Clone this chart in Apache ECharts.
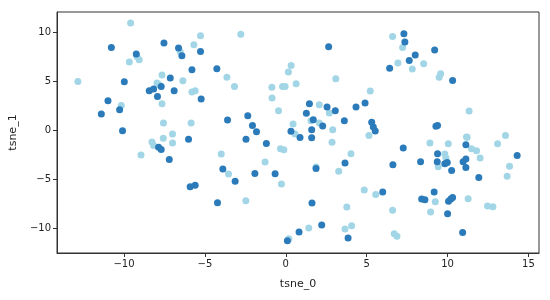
<!DOCTYPE html>
<html>
<head>
<meta charset="utf-8">
<script src="https://cdn.jsdelivr.net/npm/echarts@6/dist/echarts.min.js"></script>
<style>
  html, body { margin: 0; padding: 0; background: #fff; }
  #chart { width: 550px; height: 300px; }
</style>
</head>
<body>
<div id="chart"></div>
<script>
// tsne scatter — two groups
const xTicks = [-10, -5, 0, 5, 10, 15];
const yTicks = [-10, -5, 0, 5, 10];

const lightPoints = [
  [-9.59, 10.97], [-12.85, 5.0], [-5.27, 9.67], [-5.68, 8.76], [-6.53, 8.07], [-9.2, 7.56],
  [-9.06, 7.22], [-9.67, 6.99], [-7.65, 5.66], [-6.36, 5.08], [-7.96, 4.85], [-7.82, 4.67],
  [-5.8, 3.93], [-5.6, 4.06], [-7.65, 2.73], [-10.17, 2.56], [-7.56, 0.77], [-5.85, 0.77],
  [-7.57, -0.8], [-7.0, -0.36], [-7.0, -1.28], [-8.27, -1.17], [-8.17, -1.52], [-8.95, -2.5],
  [-3.99, -2.4], [-3.64, 5.42], [-3.17, 4.5],
  [-2.78, 9.81], [0.33, 6.64], [0.16, 5.97], [-0.86, 4.4], [-0.04, 4.5], [-0.2, 4.5],
  [0.64, 4.78], [3.09, 5.29], [-0.85, 3.31], [-0.45, 2.02], [5.22, 4.03], [2.07, 2.63],
  [2.69, 1.79], [1.56, 1.0], [2.07, 0.77], [0.45, 0.66], [2.9, 0.08], [5.14, -0.5],
  [0.57, -0.36], [2.86, -1.21], [-0.33, -1.86], [-0.12, -1.96], [-3.54, -4.44], [-1.28, -3.21],
  [-0.27, -5.46], [1.87, -3.72], [3.27, -4.17], [4.03, -2.37], [4.85, -6.07], [5.56, -6.52],
  [-2.47, -7.16], [3.77, -7.8], [1.42, -9.95], [0.19, -11.04], [3.66, -10.05], [4.07, -9.71],
  [6.6, 9.6], [7.22, 8.48], [6.93, 6.89], [7.82, 6.28], [8.52, 6.82], [9.57, 5.8],
  [9.48, 5.42], [11.33, 1.99], [11.17, -0.66], [13.58, -0.5], [8.91, -1.28], [10.04, -1.35],
  [11.21, -0.7], [11.48, -1.86], [11.79, -2.06], [13.09, -1.35], [9.83, -2.4], [9.9, -2.81],
  [9.42, -3.69], [12.01, -2.81], [13.83, -3.66], [13.68, -4.68], [9.24, -7.27], [11.27, -6.96],
  [12.47, -7.7], [12.8, -7.78], [6.6, -8.15], [8.95, -8.32], [6.7, -10.53], [6.87, -10.8]
];

const darkPoints = [
  [-10.78, 8.48], [-7.53, 8.93], [-6.63, 8.42], [-6.42, 7.63], [-5.27, 8.07], [-9.24, 7.8],
  [-5.8, 6.2], [-4.26, 6.3], [-9.98, 4.98], [-7.14, 5.36], [-7.7, 4.5], [-8.17, 4.23],
  [-8.44, 4.06], [-6.9, 4.06], [-7.93, 3.48], [-5.23, 3.21], [-10.99, 3.04], [-10.27, 2.12],
  [-11.4, 1.68], [-10.09, -0.02], [-6.01, -0.9], [-3.6, 1.07], [-7.86, -1.72], [-7.7, -1.93],
  [-7.2, -2.95], [-3.89, -3.93], [-5.91, -5.73], [-5.6, -5.6], [-4.22, -7.37],
  [2.65, 8.55], [-2.35, 1.51], [-2.06, 0.5], [-1.81, -0.12], [1.46, 2.73], [2.55, 2.4],
  [3.06, 2.02], [1.27, 1.75], [1.7, 1.1], [2.28, 0.46], [3.62, 1.0], [4.34, 2.4],
  [4.9, 2.8], [0.32, -0.09], [1.6, 0.08], [5.31, 0.83], [5.41, 0.36], [5.53, -0.05],
  [-2.46, -0.9], [0.88, -0.72], [1.6, -0.75], [-1.2, -1.32], [-1.91, -4.38], [-0.66, -4.41],
  [-3.13, -5.19], [1.87, -3.87], [3.66, -3.32], [5.99, -6.28], [1.62, -7.4], [2.22, -9.64],
  [0.82, -10.36], [0.1, -11.24], [3.85, -10.97],
  [7.3, 9.88], [7.36, 9.03], [8.0, 7.7], [7.63, 7.15], [6.42, 6.34], [9.2, 8.21],
  [10.31, 5.11], [9.28, 0.42], [9.38, 0.52], [11.13, -1.45], [7.26, -1.79], [9.38, -2.37],
  [9.36, -3.18], [9.83, -3.39], [9.98, -3.26], [10.25, -4.07], [10.96, -3.18], [11.13, -2.91],
  [11.13, -3.77], [8.33, -3.18], [6.62, -3.49], [14.3, -2.54], [11.93, -4.79], [9.17, -6.28],
  [8.4, -6.99], [8.6, -7.06], [10.06, -7.23], [10.2, -6.99], [10.31, -6.83], [10.0, -8.49],
  [10.93, -10.4]
];

const font = 'DejaVu Sans';
const minus = v => String(v).replace('-', '\u2212');

const chart = echarts.init(document.getElementById('chart'), null, { renderer: 'canvas' });

chart.setOption({
  animation: false,
  grid: {
    left: 57, right: 11, top: 12, bottom: 47,
    show: true, borderColor: '#333', borderWidth: 1, backgroundColor: 'transparent'
  },
  xAxis: {
    type: 'value',
    min: -14.14, max: 15.65,
    name: 'tsne_0', nameLocation: 'middle', nameGap: 26,
    nameTextStyle: { fontFamily: font, fontSize: 11, color: '#222' },
    axisLine: { show: true, onZero: false, lineStyle: { color: '#333', width: 1 } },
    axisTick: { show: true, length: 4, lineStyle: { color: '#333' }, customValues: xTicks },
    axisLabel: {
      fontFamily: font, fontSize: 10, color: '#222', margin: 6,
      customValues: xTicks, formatter: minus
    },
    splitLine: { show: false }
  },
  yAxis: {
    type: 'value',
    min: -12.5, max: 12.09,
    name: 'tsne_1', nameLocation: 'middle', nameGap: 38, nameRotate: 90,
    nameTextStyle: { fontFamily: font, fontSize: 11, color: '#222' },
    axisLine: { show: true, onZero: false, lineStyle: { color: '#333', width: 1 } },
    axisTick: { show: true, length: 4, lineStyle: { color: '#333' }, customValues: yTicks },
    axisLabel: {
      fontFamily: font, fontSize: 10, color: '#222', margin: 6,
      customValues: yTicks, formatter: minus
    },
    splitLine: { show: false }
  },
  series: [{
    name: 'light',
    type: 'scatter',
    data: lightPoints,
    symbolSize: 7,
    itemStyle: { color: '#a2d6e6', opacity: 1 }
  }, {
    name: 'dark',
    type: 'scatter',
    data: darkPoints,
    symbolSize: 7,
    itemStyle: { color: '#2b7bba', opacity: 1 }
  }]
});
</script>
</body>
</html>
